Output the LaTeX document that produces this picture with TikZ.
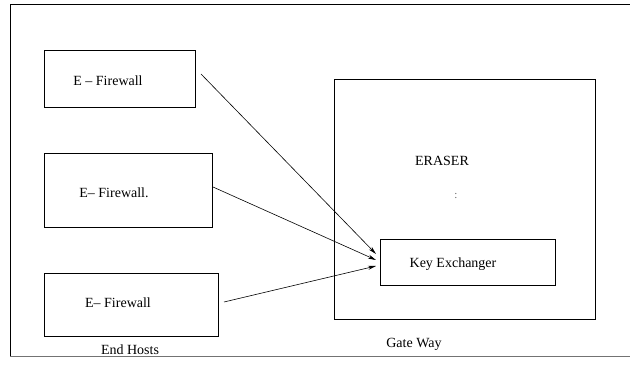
\documentclass[tikz,border=0pt]{standalone}
\usepackage{fontspec}
\setmainfont{Liberation Serif}
\usetikzlibrary{arrows.meta}
\begin{document}
\begin{tikzpicture}[x=1pt,y=-1pt,
  box/.style={draw,line width=0.7pt},
  lbl/.style={font=\fontsize{14}{16}\selectfont,inner sep=0pt},
  conn/.style={line width=0.6pt,-{Stealth[length=8pt,width=4pt]}}]
\useasboundingbox (0,0) rectangle (630,366);
% outer frame (right side off picture)
\draw[line width=0.8pt] (633,4) -- (10,4) -- (10,356);
\draw[line width=0.8pt,black!55] (10,356) -- (633,356);
% end hosts
\draw[box] (44,50) rectangle (195,107);
\draw[box] (44,153) rectangle (212,227);
\draw[box] (44,273) rectangle (218,336);
\node[lbl] (t1) at (108,81) {E -- Firewall};
\node[lbl] (t2) at (114,193) {E-- Firewall.};
\node[lbl] (t3) at (118,303) {E-- Firewall};
\node[lbl] (eh) at (130,350) {End Hosts};
% gateway
\draw[box] (334,79) rectangle (595,319);
\draw[box] (380,239) rectangle (555,285);
\node[lbl] (er) at (442,161) {ERASER};
\node[lbl,black!60,font=\fontsize{11}{13}\selectfont] (dots) at (456,196) {:};
\node[lbl] (ke) at (453,264) {Key Exchanger};
\node[lbl] (gw) at (414,344) {Gate Way};
% connectors
\coordinate (s1) at (201,74);
\coordinate (s2) at (213,187);
\coordinate (s3) at (224,302);
\coordinate (e1) at (376,254);
\coordinate (e2) at (376,260);
\coordinate (e3) at (376,266);
\draw[conn] (s1) -- (e1);
\draw[conn] (s2) -- (e2);
\draw[conn] (s3) -- (e3);
\end{tikzpicture}
\end{document}
